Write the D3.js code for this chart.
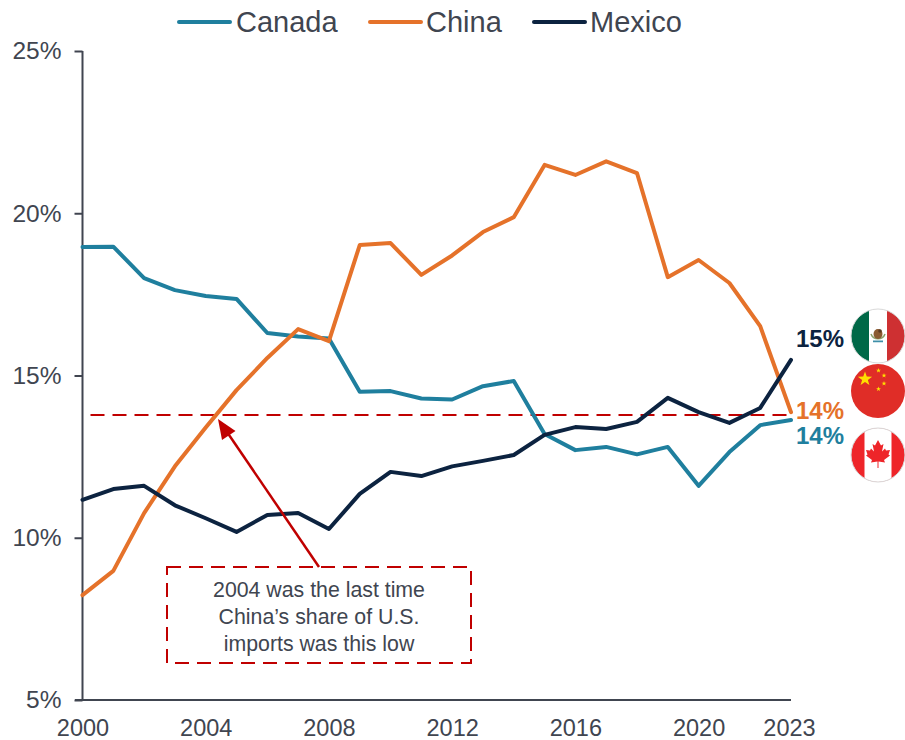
<!DOCTYPE html>
<html><head><meta charset="utf-8">
<script src="https://cdn.jsdelivr.net/npm/d3@7"></script>
<style>html,body{margin:0;padding:0;background:#fff}svg{display:block;font-family:"Liberation Sans",Arial,sans-serif}</style>
</head><body><svg id="c" width="905" height="740"></svg>
<script>
const years = d3.range(2000, 2024);
const canada = [18.96,18.97,18.0,17.63,17.45,17.36,16.31,16.2,16.14,14.5,14.52,14.29,14.26,14.67,14.83,13.2,12.7,12.8,12.57,12.8,11.6,12.64,13.47,13.63];
const china = [8.23,8.98,10.76,12.2,13.4,14.55,15.54,16.43,16.06,19.02,19.08,18.1,18.7,19.42,19.88,21.49,21.18,21.6,21.24,18.03,18.56,17.85,16.52,13.87];
const mexico = [11.17,11.5,11.6,11.0,10.6,10.18,10.7,10.76,10.27,11.35,12.03,11.9,12.2,12.37,12.55,13.17,13.41,13.35,13.57,14.31,13.87,13.54,14.0,15.48];
const seriesNames = ["Canada","China","Mexico"];
const seriesColors = ["#1f7f9e","#e5722a","#0c2340"];
const xTicks = [2000,2004,2008,2012,2016,2020,2023];
const yTicks = [5,10,15,20,25];
const endLabels = ["14%","14%","15%"];
const thresholdValue = 13.78;
const noteLines = ["2004 was the last time","China’s share of U.S.","imports was this low"];

const svg = d3.select("#c");
const ink = "#404550", red = "#c00000";
const x = d3.scaleLinear().domain([2000,2023]).range([82.5,791]);
const y = d3.scaleLinear().domain([5,25]).range([700,51]);

// axes
const gy = svg.append("g").attr("transform","translate(82.5,0)")
  .call(d3.axisLeft(y).tickValues(yTicks).tickFormat(d=>d+"%").tickSize(8).tickPadding(6));
gy.select(".domain").attr("stroke",ink).attr("stroke-width",2).attr("d","M0,51V700");
gy.selectAll("line").attr("stroke",ink).attr("stroke-width",2);
gy.selectAll("text").attr("fill",ink).attr("font-size",24.5).attr("font-family","inherit").attr("x",-21);
const gx = svg.append("g").attr("transform","translate(0,700)")
  .call(d3.axisBottom(x).tickValues(xTicks).tickFormat(d3.format("d")).tickSize(0).tickPadding(19));
gx.select(".domain").attr("stroke",ink).attr("stroke-width",2).attr("d","M75,0H791");
gx.selectAll("text").attr("fill",ink).attr("font-size",23.5).attr("font-family","inherit");
gx.selectAll("text").filter(d=>d===2023).attr("dx",-2);

// threshold
svg.append("line").attr("x1",x(2000)+8).attr("x2",x(2023)).attr("y1",y(thresholdValue)).attr("y2",y(thresholdValue))
  .attr("stroke",red).attr("stroke-width",2).attr("stroke-dasharray","14 8");

// lines
const line = d3.line().x((d,i)=>x(years[i])).y(d=>y(d));
[canada,china,mexico].forEach((s,i)=>{
  svg.append("path").attr("d",line(s)).attr("fill","none").attr("stroke",seriesColors[i])
    .attr("stroke-width",4).attr("stroke-linejoin","round").attr("stroke-linecap","round");
});

// legend
const legendX = [179,370,534], legendTextX=[236,426,590];
seriesNames.forEach((n,i)=>{
  svg.append("line").attr("x1",legendX[i]).attr("x2",legendX[i]+51).attr("y1",22).attr("y2",22)
    .attr("stroke",seriesColors[i]).attr("stroke-width",4).attr("stroke-linecap","round");
  svg.append("text").attr("x",legendTextX[i]).attr("y",32).attr("font-size",29).attr("fill",ink).text(n);
});

// annotation
const bx=167,by=567,bw=304,bh=96;
svg.append("rect").attr("x",bx).attr("y",by).attr("width",bw).attr("height",bh).attr("fill","#fff")
  .attr("stroke",red).attr("stroke-width",2).attr("stroke-dasharray","14 8");
svg.append("line").attr("x1",319).attr("y1",567).attr("x2",227).attr("y2",432).attr("stroke",red).attr("stroke-width",2.5);
svg.append("path").attr("d","M218,419L235.5,431L222,440Z").attr("fill",red);
noteLines.forEach((t,i)=>svg.append("text").attr("x",319).attr("y",596.5+i*27.2).attr("text-anchor","middle")
  .attr("font-size",21.3).attr("fill",ink).text(t));

// end labels
const labelY=[443.5,418.5,346.5];
endLabels.forEach((t,i)=>svg.append("text").attr("x",796).attr("y",labelY[i]).attr("font-size",24).attr("font-weight","bold")
  .attr("fill",seriesColors[i]).text(t));

// flags
const defs = svg.append("defs");
function flag(id,cx,cy){
  defs.append("clipPath").attr("id",id).append("circle").attr("cx",cx).attr("cy",cy).attr("r",27);
  return svg.append("g").attr("clip-path",`url(#${id})`);
}
function ring(cx,cy){svg.append("circle").attr("cx",cx).attr("cy",cy).attr("r",27).attr("fill","none").attr("stroke","#d9d9d9").attr("stroke-width",1);}
const fx=878;
// Mexico
let g=flag("mx",fx,336);
g.append("rect").attr("x",fx-28).attr("y",308).attr("width",19).attr("height",56).attr("fill","#006847");
g.append("rect").attr("x",fx-9).attr("y",308).attr("width",18).attr("height",56).attr("fill","#fff");
g.append("rect").attr("x",fx+9).attr("y",308).attr("width",19).attr("height",56).attr("fill","#ce3032");
g.append("path").attr("d",`M${fx-7},334A7.5,7.5 0 0 0 ${fx+7},334`).attr("fill","none").attr("stroke","#8aa06a").attr("stroke-width",1.6);
g.append("ellipse").attr("cx",fx).attr("cy",334).attr("rx",4.5).attr("ry",5).attr("fill","#8a5a30");
g.append("circle").attr("cx",fx+2).attr("cy",331).attr("r",1.8).attr("fill","#5a3a20");
g.append("path").attr("d",`M${fx-5},340.5h10v1.8h-10z`).attr("fill","#3f8fa8");
ring(fx,336);
// China
g=flag("cn",fx,391);
g.append("rect").attr("x",fx-28).attr("y",363).attr("width",56).attr("height",56).attr("fill","#e02d27");
const star=(cx,cy,r)=>{const a=d3.range(10).map(i=>{const R=i%2?r*0.4:r,t=-Math.PI/2+i*Math.PI/5;return [cx+R*Math.cos(t),cy+R*Math.sin(t)];});
  g.append("path").attr("d","M"+a.join("L")+"Z").attr("fill","#ffde00");};
star(865,379,7.5);star(878.5,370.5,2.6);star(884,375.5,2.6);star(884,383.5,2.6);star(878.5,389,2.6);
// Canada
g=flag("ca",fx,455);
g.append("rect").attr("x",fx-28).attr("y",427).attr("width",56).attr("height",56).attr("fill","#ee2529");
g.append("rect").attr("x",fx-13.5).attr("y",427).attr("width",27).attr("height",56).attr("fill","#fff");
g.append("path").attr("transform",`translate(${fx},453)`)
 .attr("d","M0,-13L-3,-7.5L-5.5,-9L-4,-1.5L-7,-4.5L-8,-2.5L-12,-3L-10.5,1.5L-12,2.5L-6,7L-7,9.5L-0.5,8.5V15H0.5V8.5L7,9.5L6,7L12,2.5L10.5,1.5L12,-3L8,-2.5L7,-4.5L4,-1.5L5.5,-9L3,-7.5Z").attr("fill","#ee2529");
ring(fx,455);
</script></body></html>
